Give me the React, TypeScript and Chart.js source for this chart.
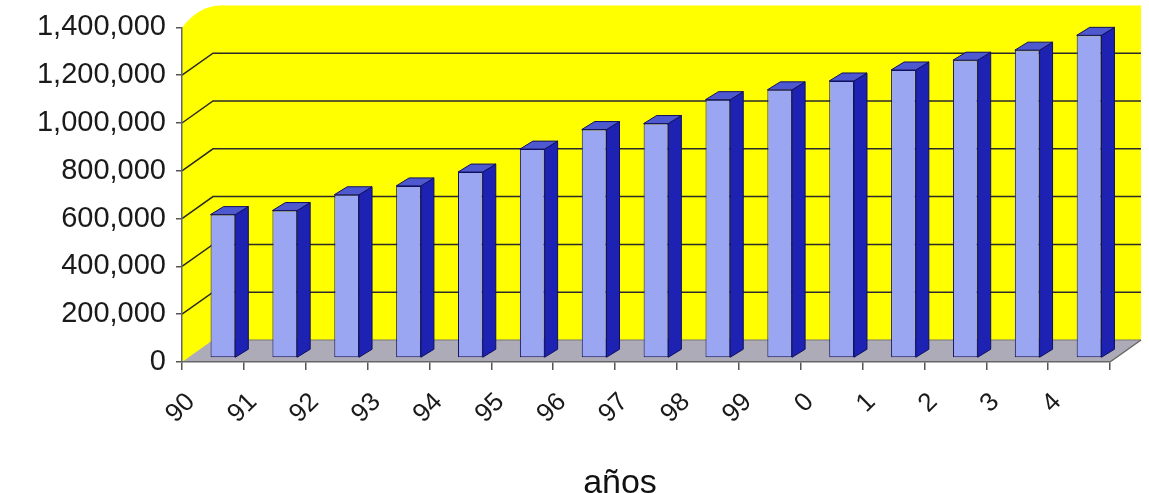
import React, { useEffect, useRef } from 'react';
import { Chart, registerables } from 'chart.js';

Chart.register(...registerables);

// ---- data ----
const categories = ['90', '91', '92', '93', '94', '95', '96', '97', '98', '99', '0', '1', '2', '3', '4'];
const values = [600000, 617000, 683000, 720000, 778000, 874000, 956000, 981000, 1081000, 1122000, 1159000, 1205000, 1246000, 1288000, 1350000];
const yTicks = [0, 200000, 400000, 600000, 800000, 1000000, 1200000, 1400000];
const xTitle = 'años';

// ---- 3D styling ----
const FONT = "'Liberation Sans', Arial, sans-serif";
const WALL_DX = 31;
const WALL_DY = -22;
const BAR_DX = 10;
const BAR_DY = -4;
const DEPTH_X = 13;
const DEPTH_Y = -8;

const poly = (ctx: CanvasRenderingContext2D, pts: number[][]) => {
  ctx.beginPath();
  ctx.moveTo(pts[0][0], pts[0][1]);
  for (let i = 1; i < pts.length; i++) ctx.lineTo(pts[i][0], pts[i][1]);
  ctx.closePath();
};

const wall3d = {
  id: 'wall3d',
  beforeDraw(chart: any) {
    const { ctx, chartArea, scales } = chart;
    const { left, right, top, bottom } = chartArea;
    const y = scales.y;
    ctx.save();
    // side + back wall
    ctx.fillStyle = '#FFFF00';
    ctx.beginPath();
    ctx.moveTo(left, bottom);
    ctx.lineTo(left, top);
    ctx.quadraticCurveTo(left + WALL_DX * 0.55, top + WALL_DY, left + WALL_DX + 8, top + WALL_DY);
    ctx.lineTo(right + WALL_DX, top + WALL_DY);
    ctx.lineTo(right + WALL_DX, bottom + WALL_DY);
    ctx.lineTo(right, bottom);
    ctx.closePath();
    ctx.fill();
    // gridlines on side & back wall
    ctx.strokeStyle = '#2a2a2a';
    ctx.lineWidth = 1.5;
    yTicks.forEach((v) => {
      if (v === yTicks[0] || v === yTicks[yTicks.length - 1]) return;
      const py = y.getPixelForValue(v);
      ctx.beginPath();
      ctx.moveTo(left, py);
      ctx.lineTo(left + WALL_DX, py + WALL_DY);
      ctx.lineTo(right + WALL_DX, py + WALL_DY);
      ctx.stroke();
    });
    // floor
    ctx.fillStyle = '#AEABB9';
    poly(ctx, [
      [left, bottom],
      [right, bottom],
      [right + WALL_DX, bottom + WALL_DY],
      [left + WALL_DX, bottom + WALL_DY],
    ]);
    ctx.fill();
    ctx.strokeStyle = '#777';
    ctx.lineWidth = 1;
    ctx.beginPath();
    ctx.moveTo(left + WALL_DX, bottom + WALL_DY);
    ctx.lineTo(right + WALL_DX, bottom + WALL_DY);
    ctx.stroke();
    ctx.strokeStyle = '#666';
    ctx.lineWidth = 1.5;
    ctx.beginPath();
    ctx.moveTo(right, bottom);
    ctx.lineTo(right + WALL_DX, bottom + WALL_DY);
    ctx.stroke();
    ctx.restore();
  },
  beforeDatasetsDraw(chart: any) {
    chart.ctx.save();
    chart.ctx.translate(BAR_DX, BAR_DY);
  },
  afterDatasetsDraw(chart: any) {
    const { ctx } = chart;
    ctx.restore();
    ctx.save();
    ctx.strokeStyle = '#10105e';
    ctx.lineWidth = 1;
    ctx.lineJoin = 'round';
    const meta = chart.getDatasetMeta(0);
    meta.data.forEach((bar: any) => {
      const { x, y, base, width } = bar.getProps(['x', 'y', 'base', 'width'], true);
      const xl = x - width / 2 + BAR_DX;
      const xr = x + width / 2 + BAR_DX;
      const yt = y + BAR_DY;
      const yb = base + BAR_DY;
      ctx.fillStyle = '#1D22B2';
      poly(ctx, [
        [xr, yt],
        [xr + DEPTH_X, yt + DEPTH_Y],
        [xr + DEPTH_X, yb + DEPTH_Y],
        [xr, yb],
      ]);
      ctx.fill();
      ctx.stroke();
      ctx.fillStyle = '#4E58CF';
      poly(ctx, [
        [xl, yt],
        [xl + DEPTH_X, yt + DEPTH_Y],
        [xr + DEPTH_X, yt + DEPTH_Y],
        [xr, yt],
      ]);
      ctx.fill();
      ctx.stroke();
    });
    ctx.restore();
  },
};

export default function App() {
  const ref = useRef<HTMLCanvasElement | null>(null);

  useEffect(() => {
    if (!ref.current) return;
    const chart = new Chart(ref.current, {
      type: 'bar',
      data: {
        labels: categories,
        datasets: [
          {
            data: values,
            backgroundColor: '#9AA6F2',
            borderColor: '#10105e',
            borderWidth: 1,
            borderSkipped: false,
            categoryPercentage: 1,
            barPercentage: 0.4,
            clip: false as any,
          },
        ],
      },
      options: {
        animation: false,
        responsive: true,
        maintainAspectRatio: false,
        layout: { padding: { left: 0, right: -91, top: 26, bottom: 0 } },
        plugins: {
          legend: { display: false },
          tooltip: { enabled: false },
          title: {
            display: true,
            text: xTitle,
            position: 'bottom',
            color: '#111',
            font: { family: FONT, size: 34, weight: 'normal' },
            padding: { top: 0, bottom: -11 },
          },
        },
        scales: {
          x: {
            grid: { drawOnChartArea: false, drawTicks: true, tickLength: 8, color: '#555', lineWidth: 1.5, offset: true },
            border: { display: true, color: '#666', width: 1.5 },
            ticks: {
              autoSkip: false,
              minRotation: 45,
              maxRotation: 45,
              padding: 17,
              labelOffset: -22,
              color: '#1a1a1a',
              font: { family: FONT, size: 26 },
            },
            afterFit: (s: any) => {
              s.height = 101.2;
            },
          },
          y: {
            min: 0,
            max: 1400000,
            grid: { drawOnChartArea: false, drawTicks: true, tickLength: 6, color: '#555', lineWidth: 1.5 },
            border: { display: true, color: '#666', width: 1.5 },
            ticks: {
              padding: 10,
              color: '#1a1a1a',
              font: { family: FONT, size: 29 },
              callback: (v: any) => Number(v).toLocaleString('en-US'),
            },
            afterBuildTicks: (s: any) => {
              s.ticks = yTicks.map((v) => ({ value: v }));
            },
            afterFit: (s: any) => {
              s.width = 182;
            },
          },
          yRight: {
            type: 'linear',
            position: 'right',
            display: true,
            grid: { display: false, drawTicks: false },
            border: { display: false },
            ticks: { display: false },
            afterFit: (s: any) => {
              s.width = 130;
            },
          },
        },
      },
      plugins: [wall3d],
    });
    return () => chart.destroy();
  }, []);

  return (
    <div style={{ position: 'fixed', left: 0, top: 0, width: 1149, height: 493, background: '#fff' }}>
      <canvas ref={ref} />
    </div>
  );
}
